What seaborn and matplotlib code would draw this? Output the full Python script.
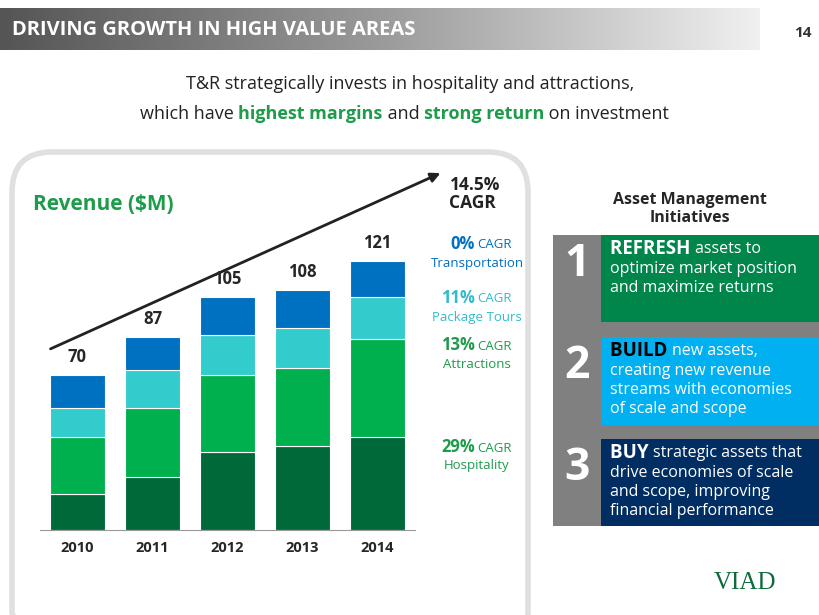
import numpy as np
import matplotlib
matplotlib.use('Agg')
import matplotlib.pyplot as plt
import seaborn as sns
from matplotlib.patches import Rectangle, FancyBboxPatch

sns.set_style('white')
plt.rcParams['font.family'] = ['Open Sans', 'DejaVu Sans']

# ── DATA ─────────────────────────────────────────────
years = ['2010', '2011', '2012', '2013', '2014']
totals = [70, 87, 105, 108, 121]
hospitality = [16, 24, 35, 38, 42]
attractions = [26, 31, 35, 35, 44]
package_tours = [13, 17, 18, 18, 19]
transportation = [15, 15, 17, 17, 16]
segments = ['Hospitality', 'Attractions', 'Package Tours', 'Transportation']
seg_colors = ['#00693A', '#00B04F', '#33CCCC', '#0070C0']
cagr = ['29%', '13%', '11%', '0%']
W, H = 820, 615

fig = plt.figure(figsize=(8.2, 6.15), dpi=100)
fig.patch.set_facecolor('white')
bg = fig.add_axes([0, 0, 1, 1]); bg.set_xlim(0, W); bg.set_ylim(H, 0); bg.axis('off')
renderer = fig.canvas.get_renderer()


def run_text(x, y, parts, **kw):
    # draw a sequence of (text, props) pieces one after another on a line
    for s, props in parts:
        t = bg.text(x, y, s, va='center', **kw, **props)
        bb = t.get_window_extent(renderer)
        x += bb.width * W / fig.bbox.width
    return x


# header gradient bar
grad = np.linspace(0, 1, 256)[None, :]
cmap = matplotlib.colors.LinearSegmentedColormap.from_list('g', ['#555555', '#9a9a9a', '#f0f0f0'])
bg.imshow(grad, cmap=cmap, extent=[0, 760, 50, 8], aspect='auto', zorder=0)
bg.text(12, 30, 'DRIVING GROWTH IN HIGH VALUE AREAS', color='white', fontsize=14.5,
        fontweight='bold', va='center')
bg.text(803, 33, '14', fontsize=11, fontweight='bold', ha='center', va='center', color='#333333')

bg.text(410, 84, 'T&R strategically invests in hospitality and attractions,', fontsize=13,
        ha='center', va='center', color='#222222')
G = '#1E9B4B'
run_text(140, 114, [('which have ', dict(color='#222222')),
                    ('highest margins', dict(color=G, fontweight='bold')),
                    (' and ', dict(color='#222222')),
                    ('strong return', dict(color=G, fontweight='bold')),
                    (' on investment', dict(color='#222222'))], fontsize=13)

# left panel outline
bg.add_patch(FancyBboxPatch((12, 152), 516, 500, boxstyle='round,pad=0,rounding_size=40',
                            fc='none', ec='#e0e0e0', lw=4, zorder=1))
bg.text(33, 204, 'Revenue ($M)', fontsize=15, fontweight='bold', color=G, va='center')

# right panel
bg.text(690, 200, 'Asset Management', fontsize=11.5, fontweight='bold', ha='center', va='center')
bg.text(690, 218, 'Initiatives', fontsize=11.5, fontweight='bold', ha='center', va='center')
bg.add_patch(Rectangle((553, 235), 267, 291, fc='#808080', ec='none'))
boxes = [(235, 322, '#00854A', '1', 'REFRESH', 'assets to',
          ['optimize market position', 'and maximize returns'], 'white'),
         (337, 425, '#00B0F0', '2', 'BUILD', 'new assets,',
          ['creating new revenue', 'streams with economies', 'of scale and scope'], 'black'),
         (439, 526, '#002D62', '3', 'BUY', 'strategic assets that',
          ['drive economies of scale', 'and scope, improving', 'financial performance'], 'white')]
for y0, y1, c, num, head, rest, lines, hc in boxes:
    bg.add_patch(Rectangle((601, y0), 219, y1 - y0, fc=c, ec='none'))
    bg.text(577, y0 + 30, num, fontsize=32, fontweight='bold', color='white', ha='center', va='center')
    run_text(610, y0 + 14, [(head + ' ', dict(color=hc, fontweight='bold', fontsize=13.5)),
                            (rest, dict(color='white', fontsize=11.5))])
    for i, ln in enumerate(lines):
        bg.text(610, y0 + 34 + i * 19, ln, fontsize=11.5, color='white', va='center')

# ── BAR CHART ────────────────────────────────────────
ax = fig.add_axes([40 / W, 1 - 530 / H, 375 / W, 311 / H])
ax.set_xlim(-0.5, 4.5); ax.set_ylim(0, 140)
bottom = np.zeros(len(years))
for name, vals, col in zip(segments, [hospitality, attractions, package_tours, transportation], seg_colors):
    sns.barplot(x=years, y=vals, bottom=bottom, color=col, width=0.74, ax=ax,
                edgecolor='white', linewidth=0.8, saturation=1)
    bottom += np.array(vals)
for i, tot in enumerate(totals):
    ax.text(i, tot + 4, str(tot), ha='center', va='bottom', fontsize=12, fontweight='bold')
ax.set_yticks([])
sns.despine(ax=ax, left=True)
ax.spines['bottom'].set_color('#999999')
ax.tick_params(axis='x', length=0, pad=8)
for lab in ax.get_xticklabels():
    lab.set_fontweight('bold'); lab.set_fontsize(10.5)
ax.set_ylabel(''); ax.patch.set_alpha(0)

# CAGR arrow and labels
bg.annotate('', xy=(443, 172), xytext=(48, 350),
            arrowprops=dict(arrowstyle='-|>', color='#222222', lw=2, mutation_scale=14))
bg.text(475, 185, '14.5%', fontsize=12.5, fontweight='bold', ha='center', va='center', color='#222222')
bg.text(472, 203, 'CAGR', fontsize=12.5, fontweight='bold', ha='center', va='center', color='#222222')
lab_y = [447, 345, 298, 244]
for name, pct, y, col in zip(segments, cagr, lab_y, [G, G, '#33BBCC', '#0070C0']):
    bg.text(475, y, pct, fontsize=12, fontweight='bold', color=col, ha='right', va='center')
    bg.text(477, y + 1, 'CAGR', fontsize=9.5, color=col, ha='left', va='center')
    bg.text(477, y + 19, name, fontsize=9.5, color=col, ha='center', va='center')

bg.text(745, 583, 'VIAD', fontsize=18, family='Liberation Serif', color='#0E6B3A', ha='center', va='center')

fig.savefig('out.png', dpi=100)
